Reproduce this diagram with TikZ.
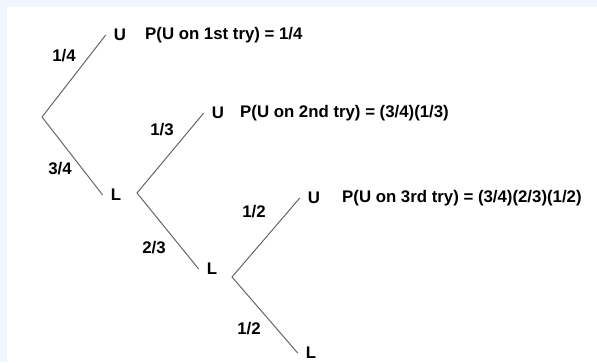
\documentclass[tikz,border=0pt]{standalone}
\usepackage{fontspec}
\setmainfont{Liberation Sans}
\definecolor{framebg}{HTML}{EFF6FD}

\begin{document}
\begin{tikzpicture}[x=1pt, y=-1pt,
    branch/.style={draw=black!60, line width=1pt},
    leaf/.style={font=\fontsize{16.8}{20}\selectfont\bfseries, inner sep=8pt},
    prob/.style={font=\fontsize{16.8}{20}\selectfont\bfseries, inner sep=0pt},
    result/.style={font=\fontsize{16.8}{20}\selectfont\bfseries, inner sep=0pt, anchor=west}]

  \fill[framebg] (0,0) rectangle (597,362);
  \fill[white] (7,7) rectangle (597,362);
  \useasboundingbox (0,0) rectangle (597,362);

  \coordinate (v0) at (42,117);
  \coordinate (v1) at (137,193);
  \coordinate (v2) at (232,277);

  \node[leaf] (u1) at (120,35)  {U};
  \node[leaf] (l1) at (116,195) {L};
  \node[leaf] (u2) at (218,113) {U};
  \node[leaf] (l2) at (212,269) {L};
  \node[leaf] (u3) at (314,198) {U};
  \node[leaf] (l3) at (311,353) {L};

  \node[prob] (p14) at (64,56)   {1/4};
  \node[prob] (p34) at (60,169)  {3/4};
  \node[prob] (p13) at (162,130) {1/3};
  \node[prob] (p23) at (154,248) {2/3};
  \node[prob] (p12a) at (254,212) {1/2};
  \node[prob] (p12b) at (249,329) {1/2};

  \node[result] (r1) at (145,35)  {P(U on 1st try) = 1/4};
  \node[result] (r2) at (240,113) {P(U on 2nd try) = (3/4)(1/3)};
  \node[result] (r3) at (342,198) {P(U on 3rd try) = (3/4)(2/3)(1/2)};

  \draw[branch] (v0) -- (u1.west);
  \draw[branch] (v0) -- (l1.west);
  \draw[branch] (v1) -- (u2.west);
  \draw[branch] (v1) -- (l2.west);
  \draw[branch] (v2) -- (u3.west);
  \draw[branch] (v2) -- (l3.west);
\end{tikzpicture}
\end{document}
